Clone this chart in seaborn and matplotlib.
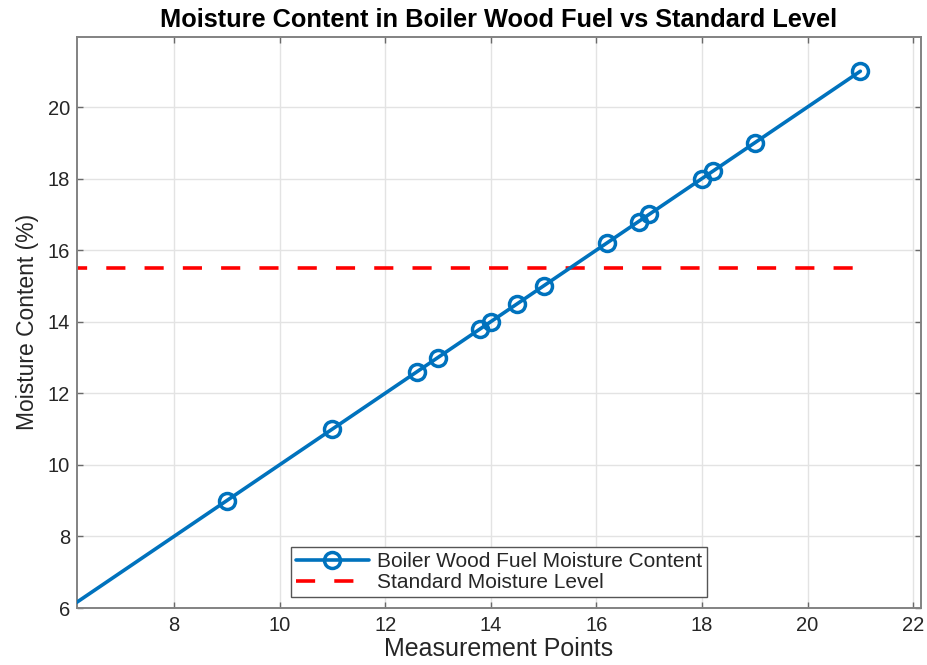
import matplotlib
matplotlib.use("Agg")
import matplotlib.pyplot as plt
import seaborn as sns
import numpy as np

# Measurement points and moisture readings (%)
measurement_points = [6, 9, 11, 12.6, 13, 13.8, 14, 14.5, 15, 16.2, 16.8, 17, 18, 18.2, 19, 21]
moisture_content = [6, 9, 11, 12.6, 13, 13.8, 14, 14.5, 15, 16.2, 16.8, 17, 18, 18.2, 19, 21]

# Standard moisture level spanning the measurement range
standard_x = [6, 21]
standard_level = [15.5, 15.5]

x_ticks = [8, 10, 12, 14, 16, 18, 20, 22]
y_ticks = [6, 8, 10, 12, 14, 16, 18, 20]

sns.set_theme(style="whitegrid")
plt.rcParams["font.family"] = ["Liberation Sans", "DejaVu Sans"]

fig = plt.figure(figsize=(9.27, 6.65), dpi=100)
ax = fig.add_axes([0.0831, 0.0857, 0.9105, 0.8594])
ax.set_facecolor("white")

blue = "#0072BD"
red = "#FF0000"

sns.lineplot(x=measurement_points, y=moisture_content, ax=ax, color=blue,
             linewidth=2.6, marker="o", markersize=11.5, markerfacecolor="none",
             markeredgecolor=blue, markeredgewidth=2.5,
             markevery=list(range(1, len(measurement_points))),
             label="Boiler Wood Fuel Moisture Content", zorder=3)

sns.lineplot(x=standard_x, y=standard_level, ax=ax, color=red, linewidth=2.6,
             linestyle="--", label="Standard Moisture Level", zorder=2)
# dash pattern is scaled by the line width: roughly 14pt on, 14pt off
ax.lines[-1].set_dashes([5.3, 5.3])

ax.set_xlim(6.165, 22.15)
ax.set_ylim(6, 21.97)
ax.set_xticks(x_ticks)
ax.set_yticks(y_ticks)

ax.grid(True, color="#e3e3e3", linewidth=1.0)
for side in ["left", "right", "top", "bottom"]:
    ax.spines[side].set_visible(True)
    ax.spines[side].set_color("#828282")
    ax.spines[side].set_linewidth(1.4)

ax.tick_params(axis="both", which="major", direction="in", length=4,
               width=1.0, color="#6a6a6a", labelsize=14.5, labelcolor="#262626",
               top=True, right=True, bottom=True, left=True)
ax.tick_params(axis="x", pad=6)
ax.tick_params(axis="y", pad=5)

ax.set_title("Moisture Content in Boiler Wood Fuel vs Standard Level",
             fontsize=18.3, fontweight="bold", color="black", pad=7)
ax.set_xlabel("Measurement Points", fontsize=18, color="#262626", labelpad=1)
ax.set_ylabel("Moisture Content (%)", fontsize=16.5, color="#262626", labelpad=6)

leg = ax.legend(loc="lower center", bbox_to_anchor=(0.5, 0.019), borderaxespad=0,
                fontsize=15, frameon=True, fancybox=False, framealpha=1,
                edgecolor="#555555", handlelength=3.5, handletextpad=0.4,
                borderpad=0.25, labelspacing=0.1)
leg.get_frame().set_linewidth(1.0)

fig.savefig("out.png", dpi=100)
